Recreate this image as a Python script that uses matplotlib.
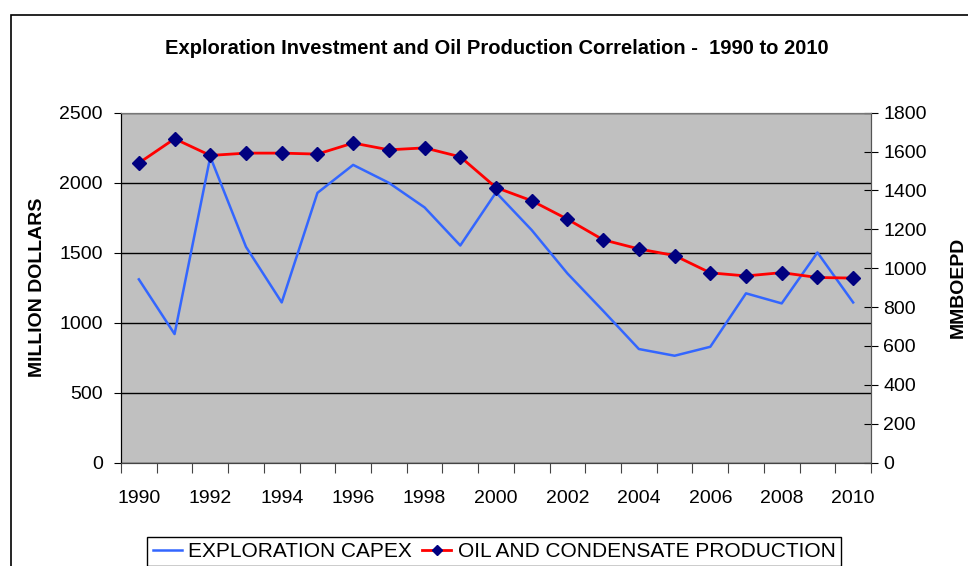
import matplotlib.pyplot as plt
import matplotlib.patches as patches
import numpy as np

years = list(range(1990, 2011))
capex = [1309, 918, 2185, 1541, 1144, 1927, 2127, 1999, 1823, 1551, 1930,
         1661, 1351, 1084, 811, 763, 827, 1209, 1137, 1501, 1144]
production = [1541, 1666, 1580, 1592, 1592, 1587, 1644, 1609, 1619, 1573, 1415,
              1347, 1252, 1146, 1099, 1065, 976, 960, 977, 952, 949]
year_labels = [str(y) for y in years[::2]]

plt.rcParams['font.family'] = ['Liberation Sans', 'DejaVu Sans']

fig = plt.figure(figsize=(9.68, 5.66), dpi=100)
ax = fig.add_axes([121/968, 1 - 462.5/566, 750/968, 349.8/566])
ax.set_facecolor('#C0C0C0')

x = np.arange(len(years))
l1, = ax.plot(x, capex, color='#3366FF', lw=1.8, label='EXPLORATION CAPEX', zorder=3)
ax.set_ylim(0, 2500)
ax.set_yticks(range(0, 2501, 500))
ax.yaxis.grid(True, color='black', lw=1)
ax.set_axisbelow(True)
ax.set_xlim(-0.5, len(years) - 0.5)

# ticks at category boundaries, labels at centres every other year
ax.set_xticks(np.arange(-0.5, len(years), 1))
ax.set_xticklabels([])
ax.set_xticks(x[::2], minor=True)
ax.set_xticklabels(year_labels, minor=True)
ax.tick_params(axis='x', which='major', length=7, color='#444444')
ax.tick_params(axis='x', which='minor', length=0, pad=20, labelsize=14)
ax.tick_params(axis='y', length=5, labelsize=14, pad=8)
ax.set_ylabel('MILLION DOLLARS', fontsize=14, fontweight='bold', labelpad=10)

ax2 = ax.twinx()
l2, = ax2.plot(x, production, color='red', lw=2, marker='D', ms=7,
               mfc='#000080', mec='#000080', label='OIL AND CONDENSATE PRODUCTION', zorder=4)
ax2.set_ylim(0, 1800)
ax2.set_yticks(range(0, 1801, 200))
ax2.tick_params(axis='y', direction='inout', length=10, labelsize=14, pad=4)
ax2.set_ylabel('MMBOEPD', fontsize=14, fontweight='bold', labelpad=16)

for a in (ax, ax2):
    for s in a.spines.values():
        s.set_color('#777777')
    a.spines['left'].set_color('black')
    a.spines['bottom'].set_color('#444444')
    a.spines['right'].set_color('#555555')

fig.text(497/968, 1 - 48/566, 'Exploration Investment and Oil Production Correlation -  1990 to 2010',
         ha='center', va='center', fontsize=14.5, fontweight='bold')

fig.legend(handles=[l1, l2], loc='upper center', bbox_to_anchor=(494/968, 1 - 537/566),
           ncol=2, fontsize=15, frameon=True, fancybox=False, edgecolor='black',
           handlelength=1.4, handletextpad=0.3, columnspacing=0.5, borderpad=0.25,
           borderaxespad=0, markerscale=0.8, framealpha=1)

fig.patches.append(patches.Rectangle((10.5/968, -0.2), 1.5, 1.2 - 15/566, transform=fig.transFigure,
                                     fill=False, edgecolor='black', lw=1.2))

fig.savefig('out.png', dpi=100)
